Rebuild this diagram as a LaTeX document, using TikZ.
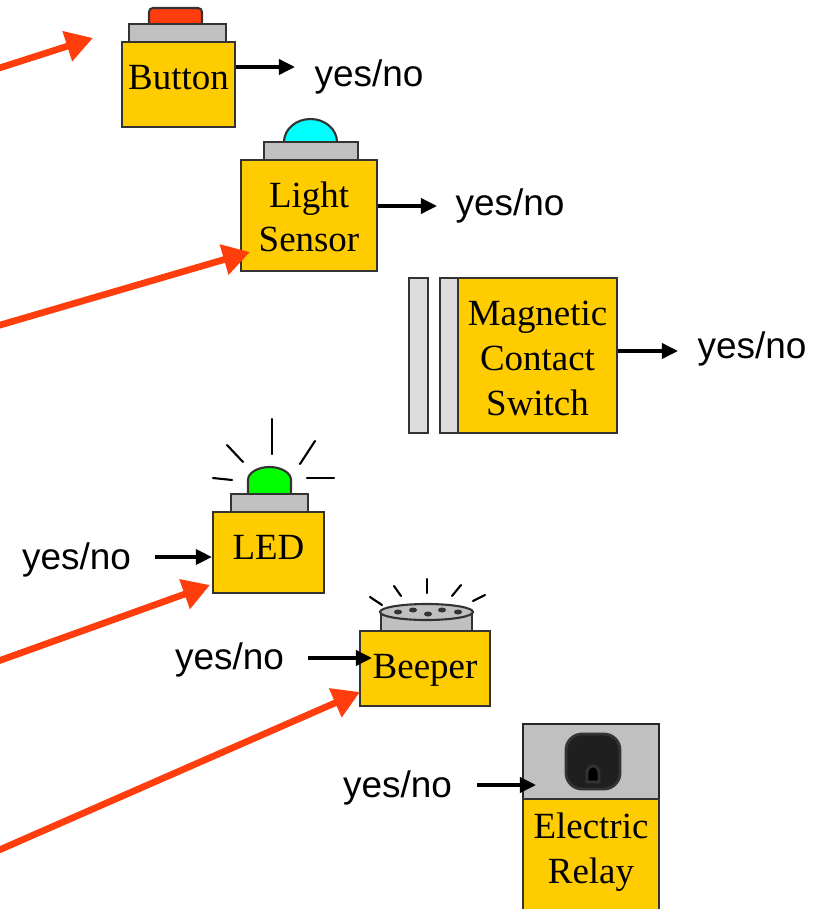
\documentclass[tikz,border=0pt]{standalone}
\usepackage{fontspec}
\setmainfont{Liberation Serif}
\newfontfamily\yesfont{Liberation Sans}
\usetikzlibrary{arrows.meta,positioning}
\definecolor{boxyellow}{HTML}{FFCC00}
\definecolor{capgrey}{HTML}{C0C0C0}
\definecolor{plategrey}{HTML}{DDDDDD}
\definecolor{edgegrey}{HTML}{333333}
\definecolor{pointred}{HTML}{FF3D0D}
\definecolor{lampcyan}{HTML}{00FFFF}
\definecolor{lampgreen}{HTML}{00FF00}
\tikzset{
  box/.style={draw=edgegrey, fill=boxyellow, line width=0.6pt, inner sep=0pt, align=center, font=\fontsize{10.5}{12.75}\selectfont},
  part/.style={draw=edgegrey, line width=0.6pt},
  yesno/.style={inner sep=0pt, font=\yesfont\fontsize{10.5}{12.75}\selectfont},
  sigline/.style={-{Triangle[length=.16cm,width=.15cm]}, line width=1pt, black},
  pointer/.style={-{Triangle[length=.27cm,width=.3cm]}, line width=1.9pt, pointred},
  ray/.style={line width=0.6pt, black, line cap=round}
}
\begin{document}
\begin{tikzpicture}[x=.01cm,y=-.01cm]
\path[use as bounding box, clip] (0,0) rectangle (820,909);
% Button
\draw[part, fill=pointred, rounded corners=.04cm] (149,26) -- (149,8) -- (202,8) -- (202,26) -- cycle;
\draw[part, fill=capgrey] (129,24) rectangle (226,42);
\node[box, minimum width=1.13cm, minimum height=.85cm, text depth=.14cm] (button) at (178.5,84.5) {Button};
% Light sensor
\draw[part, fill=lampcyan] (284,142) arc[start angle=180, end angle=360, x radius=26.5, y radius=23];
\draw[part, fill=capgrey] (264,142) rectangle (358,160);
\node[box, minimum width=1.36cm, minimum height=1.11cm, text height=20.8pt] (light) at (309,215.5) {Light\\Sensor};
% Magnetic contact switch
\draw[part, fill=plategrey] (409,278) rectangle (428,433);
\draw[part, fill=plategrey] (440,278) rectangle (458,433);
\node[box, minimum width=1.59cm, minimum height=1.55cm, text height=34.1pt] (magnetic) at (537.5,355.5) {Magnetic\\Contact\\Switch};
% LED
\draw[ray] (272,419) -- (272,454);
\draw[ray] (227,445) -- (243,462);
\draw[ray] (315,441) -- (300,464);
\draw[ray] (213,478) -- (232,480);
\draw[ray] (307,478) -- (334,478);
\draw[part, fill=lampgreen] (248,494) -- (248,480) arc[start angle=180, end angle=360, x radius=21.5, y radius=13] -- (291,494);
\draw[part, fill=capgrey] (231,494) rectangle (308,512);
\node[box, minimum width=1.11cm, minimum height=.81cm, text depth=.10cm] (led) at (268.5,552.5) {LED};
% Beeper
\draw[ray] (370,597) -- (382,605);
\draw[ray] (394,586) -- (401,596);
\draw[ray] (427,579) -- (427,593);
\draw[ray] (452,596) -- (461,585);
\draw[ray] (473,601) -- (485,595);
\draw[part, fill=capgrey] (381,612) -- (381,631) -- (472,631) -- (472,612);
\draw[part, fill=capgrey] (426.5,612) ellipse [x radius=46.5, y radius=8];
\fill[edgegrey] (398,612) ellipse [x radius=4, y radius=2.5];
\fill[edgegrey] (413,610) ellipse [x radius=4, y radius=2.5];
\fill[edgegrey] (428,614) ellipse [x radius=4, y radius=2.5];
\fill[edgegrey] (442,610) ellipse [x radius=4, y radius=2.5];
\fill[edgegrey] (458,612) ellipse [x radius=4, y radius=2.5];
\node[box, minimum width=1.3cm, minimum height=.75cm, text depth=.04cm] (beeper) at (425,668.5) {Beeper};
% Electric relay
\draw[draw=black!85, line width=0.6pt, fill=capgrey] (523,724) rectangle (659,799);
\draw[draw=edgegrey, line width=0.8pt, fill=black!88, rounded corners=.16cm] (566,734) rectangle (620,789);
\draw[draw=edgegrey, line width=0.8pt, fill=black] (587,782) -- (587,773) arc[start angle=180, end angle=360, x radius=6, y radius=7] -- (599,782) -- cycle;
\node[box, minimum width=1.36cm, minimum height=1.4cm, text depth=.41cm] (relay) at (591,869) {Electric\\Relay};
% yes/no labels
\node[yesno] (yesbutton) at (369,77) {yes/no};
\node[yesno] (yeslight) at (510,206) {yes/no};
\node[yesno] (yesmagnetic) at (752,349) {yes/no};
\node[yesno] (yesled) at (76.5,560) {yes/no};
\node[yesno] (yesbeeper) at (229.5,660) {yes/no};
\node[yesno] (yesrelay) at (397.5,788) {yes/no};
% signal arrows
\coordinate (buttonout) at (295,67);
\coordinate (lightout) at (437,206);
\coordinate (magneticout) at (678,351);
\coordinate (ledin) at (155,557);
\coordinate (beeperin) at (308,658);
\coordinate (beepertip) at (372,658);
\coordinate (relayin) at (477,785);
\coordinate (relaytip) at (536,785);
\draw[sigline] (buttonout -| button.east) -- (buttonout);
\draw[sigline] (lightout -| light.east) -- (lightout);
\draw[sigline] (magneticout -| magnetic.east) -- (magneticout);
\draw[sigline] (ledin) -- (ledin -| led.west);
\draw[sigline] (beeperin) -- (beepertip);
\draw[sigline] (relayin) -- (relaytip);
% red pointers from the left
\coordinate (buttonfrom) at (-10,71);
\coordinate (buttontip) at (93,38);
\coordinate (lightfrom) at (-10,328);
\coordinate (lighttip) at (250,252);
\coordinate (ledfrom) at (-10,664);
\coordinate (ledtip) at (210,585);
\coordinate (beeperfrom) at (-10,854);
\coordinate (beepertipred) at (360,692);
\draw[pointer] (buttonfrom) -- (buttontip);
\draw[pointer] (lightfrom) -- (lighttip);
\draw[pointer] (ledfrom) -- (ledtip);
\draw[pointer] (beeperfrom) -- (beepertipred);
\end{tikzpicture}
\end{document}
